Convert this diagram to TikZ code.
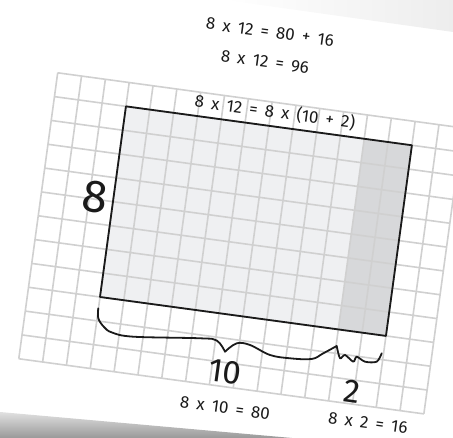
\documentclass[tikz,border=0pt]{standalone}
\usepackage{fontspec}
\setmainfont{Fira Sans}[WordSpace=1.6]
\definecolor{gridgrey}{RGB}{208,208,208}
\definecolor{cellgrey}{RGB}{239,240,242}
\definecolor{cellshade}{RGB}{215,216,218}
\definecolor{inkblack}{RGB}{26,26,26}
\usetikzlibrary{positioning}

\begin{document}
\begin{tikzpicture}[
    x=1pt, y=1pt,
    hand/.style={inner sep=1pt, text=inkblack, rotate=-7.75,
                 font=\fontsize{17}{19}\selectfont},
    bighand/.style={hand, font=\fontsize{33}{35}\selectfont},
    ink/.style={draw=inkblack, line width=1.8pt, line cap=round, line join=round}
  ]
  \useasboundingbox (0,0) rectangle (453,438);
  \clip (0,0) rectangle (453,438);
  % sheet edges
  \shade[top color=black!12, bottom color=black!40] (0,0) -- (0,26) -- (292,0) -- cycle;
  \shade[left color=white, right color=black!7] (225,438) -- (453,438) -- (453,406) -- cycle;

  % squared paper with the 8 by 12 block
  \begin{scope}[shift={(100,141)}, rotate=-7.75, x=24.05pt, y=24.05pt]
    \fill[cellgrey] (0,0) rectangle (10,8);
    \fill[cellshade] (10,0) rectangle (12,8);
    \draw[gridgrey, line width=1.6pt, step=1] (-3,-3) grid (14,9);
    \draw[ink] (0,0) rectangle (12,8);
  \end{scope}

  \node[hand] (sum) at (270,406) {8 x 12 = 80 + 16};
  \node[hand] (total) at (265,376) {8 x 12 = 96};
  \node[hand] (split) at (275,326) {8 x 12 = 8 x (10 + 2)};
  \node[bighand, font=\fontsize{46}{48}\selectfont] (side) at (95,241) {8};
  \node[bighand] (ten) at (225,66) {10};
  \node[bighand] (two) at (352,46) {2};
  \node[hand] (tenprod) at (225,30) {8 x 10 = 80};
  \node[hand] (twoprod) at (368,15) {8 x 2 = 16};

  % braces under the block
  \draw[ink] plot[smooth, tension=0.6] coordinates {(98.3,129.7) (98.3,119.7) (104,111)
    (112,105.5) (133.3,101.3) (200,99.7) (216.7,97.5) (225,86.3)};
  \draw[ink] plot[smooth, tension=0.6] coordinates {(225,86.3) (236.7,94.7) (250,93)
    (270,83) (290,79.7) (311.7,79) (323.3,84.7) (336.7,92)};
  \draw[ink] plot[smooth, tension=0.5] coordinates {(336.7,92) (340,79.7) (345,83)
    (353.3,76.3) (356.7,81.3) (365,76.3) (376.7,76.3) (381.7,84.7)};
\end{tikzpicture}
\end{document}
